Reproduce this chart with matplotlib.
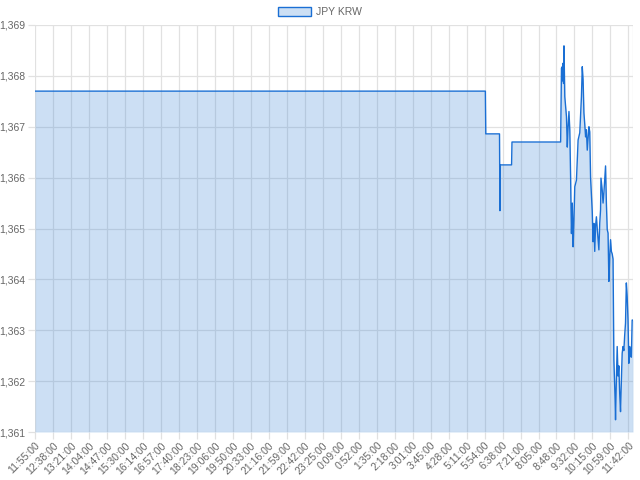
import matplotlib
matplotlib.use("Agg")
import matplotlib.pyplot as plt
from matplotlib.ticker import FuncFormatter

plt.rcParams['font.family'] = ['Liberation Sans', 'DejaVu Sans']

# minutes after 11:55 and JPY/KRW rate
minutes = [0, 1083, 1084, 1117, 1118, 1119, 1146, 1147, 1264,
           1266, 1268, 1269, 1270, 1271, 1272, 1274, 1278, 1280, 1282, 1284,
           1286, 1288, 1289, 1290, 1292, 1294, 1296, 1298, 1302, 1306, 1310,
           1314, 1316, 1318, 1320, 1322, 1324, 1326, 1328, 1332, 1334, 1336,
           1340, 1342, 1344, 1346, 1348, 1350, 1352, 1356, 1358, 1360, 1361,
           1364, 1366, 1368, 1372, 1374, 1376, 1378, 1380, 1382, 1384, 1386,
           1388, 1390, 1392, 1395, 1396, 1398, 1400, 1402, 1404, 1406, 1408,
           1410, 1412, 1414, 1416, 1418, 1420, 1422, 1424, 1426, 1428, 1430,
           1432, 1434, 1436, 1438]
rates = [1367.70, 1367.70, 1366.86, 1366.86, 1365.35, 1366.25, 1366.25, 1366.70, 1366.70,
         1368.15, 1368.18, 1367.90, 1368.25, 1367.85, 1368.59, 1367.59, 1367.20, 1366.60, 1367.00, 1367.30,
         1366.94, 1366.00, 1365.40, 1364.90, 1365.50, 1364.64, 1365.17, 1365.82, 1365.95, 1366.74, 1366.88,
         1367.59, 1368.18, 1367.92, 1367.27, 1367.05, 1366.80, 1366.94, 1366.54, 1367.00, 1366.90, 1366.00,
         1365.33, 1364.74, 1365.10, 1364.55, 1365.05, 1365.23, 1365.00, 1364.58, 1365.10, 1365.37, 1365.99,
         1365.75, 1365.50, 1365.70, 1366.23, 1365.50, 1364.98, 1364.91, 1363.96, 1364.45, 1364.78, 1364.55,
         1364.50, 1364.40, 1362.42, 1361.63, 1361.24, 1362.03, 1362.68, 1362.10, 1362.30, 1361.76, 1361.40,
         1362.00, 1362.55, 1362.68, 1362.60, 1362.90, 1363.14, 1363.93, 1363.66, 1363.20, 1362.35, 1362.68,
         1362.50, 1362.47, 1363.20, 1363.20]

tick_labels = ["11:55:00", "12:38:00", "13:21:00", "14:04:00", "14:47:00", "15:30:00",
               "16:14:00", "16:57:00", "17:40:00", "18:23:00", "19:06:00", "19:50:00",
               "20:33:00", "21:16:00", "21:59:00", "22:42:00", "23:25:00", "0:09:00",
               "0:52:00", "1:35:00", "2:18:00", "3:01:00", "3:45:00", "4:28:00",
               "5:11:00", "5:54:00", "6:38:00", "7:21:00", "8:05:00", "8:48:00",
               "9:32:00", "10:15:00", "10:59:00", "11:42:00"]

line_col = "#1a6fd4"
fill_col = (54/255, 130/255, 215/255, 0.25)
grid_col = "#e1e1e1"
text_col = "#666666"

fig = plt.figure(figsize=(6.4, 4.8), dpi=100)
ax = fig.add_axes([35/640, 48/480, 598/640, 407/480])

ymin = 1361
ax.fill_between(minutes, rates, ymin, color=fill_col, linewidth=0, zorder=2)
ax.plot(minutes, rates, color=line_col, linewidth=1.0, zorder=3)

last_tick = 1427
step = last_tick / (len(tick_labels) - 1)
ax.set_xticks([i * step for i in range(len(tick_labels))])
ax.set_xticklabels(tick_labels, rotation=45, ha="right", rotation_mode="anchor")
ax.set_xlim(0, 1438)
ax.set_ylim(1361, 1369)
ax.set_yticks(range(1361, 1370))
ax.yaxis.set_major_formatter(FuncFormatter(lambda v, p: f"{int(v):,}"))

ax.grid(True, color=grid_col, linewidth=0.9, zorder=1)
ax.set_axisbelow(True)
for s in ax.spines.values():
    s.set_visible(False)
ax.axvline(1438, color=grid_col, linewidth=0.9, zorder=1)
ax.tick_params(axis="both", colors=grid_col, labelcolor=text_col, labelsize=7.5,
               length=5, width=0.9)
ax.tick_params(axis="x", pad=1)
ax.tick_params(axis="y", pad=2)

leg_handle = plt.Rectangle((0, 0), 1, 1, facecolor=fill_col, edgecolor=line_col, linewidth=1.0)
fig.legend([leg_handle], ["JPY KRW"], loc="upper center", bbox_to_anchor=(0.5, 1.005),
           frameon=False, fontsize=7.5, labelcolor=text_col, handlelength=3.2,
           handleheight=1.0, handletextpad=0.5)

fig.savefig("out.png", dpi=100)
